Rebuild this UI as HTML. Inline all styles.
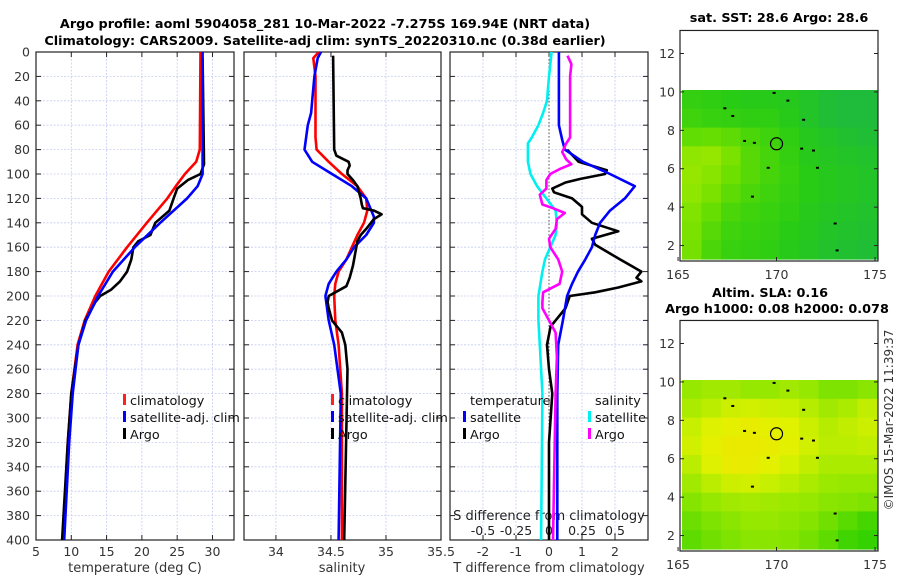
<!DOCTYPE html>
<html><head><meta charset="utf-8"><style>
html,body{margin:0;padding:0;background:#fff;width:900px;height:580px;overflow:hidden}
svg{display:block;font-family:"DejaVu Sans","Liberation Sans",sans-serif}
</style></head><body>
<svg id="fig" width="900" height="580" viewBox="0 0 900 580" xmlns="http://www.w3.org/2000/svg">
<g id="titles" font-weight="bold" font-size="12.8" text-anchor="middle" fill="#000">
<text x="325" y="28">Argo profile: aoml 5904058_281 10-Mar-2022 -7.275S 169.94E (NRT data)</text>
<text x="325" y="45">Climatology: CARS2009. Satellite-adj clim: synTS_20220310.nc (0.38d earlier)</text>
<text x="779" y="22">sat. SST: 28.6 Argo: 28.6</text>
<text x="770" y="297">Altim. SLA: 0.16</text>
<text x="777" y="313">Argo h1000: 0.08 h2000: 0.078</text>
</g>
<text x="893" y="420" font-size="12" fill="#333" text-anchor="middle" transform="rotate(-90 893 420)">©IMOS 15-Mar-2022 11:39:37</text>
</svg>
<script>
// ---------- data ----------
const depthTicks=[0,20,40,60,80,100,120,140,160,180,200,220,240,260,280,300,320,340,360,380,400];
const tempTicks=[5,10,15,20,25,30];
const salTicks=[34,34.5,35,35.5];
const tdiffTicks=[-2,-1,0,1,2];
const sdiffTicks=[-0.5,-0.25,0,0.25,0.5];
const sdiffTickLabels=["-0.5","-0.25","0","0.25","0.5"];
const climTempDepth=[0,80,90,100,110,120,140,160,180,200,220,240,280,320,400];
const climTemp=[28.3,28.2,27.7,26.1,24.8,23.6,20.7,17.9,15.3,13.4,11.9,10.9,10.0,9.5,8.8];
const satTempDepth=[0,100,110,120,140,160,180,200,220,240,280,320,400];
const satTemp=[28.6,28.6,27.9,26.4,22.6,19.0,15.9,13.8,12.1,11.0,10.2,9.7,9.0];
const argoTempDepth=[5,92,100,105,112,120,130,140,150,155,160,170,180,188,195,200,205,220,240,280,320,400];
const argoTemp=[28.6,28.8,28.3,26.5,25.0,24.5,23.9,21.9,21.2,19.5,18.8,18.5,17.9,16.9,15.6,14.1,13.4,12.0,11.0,10.0,9.5,8.7];
const climSalDepth=[0,5,20,70,80,90,100,110,120,130,140,150,160,170,180,190,200,220,240,280,400];
const climSal=[34.39,34.34,34.36,34.36,34.37,34.48,34.60,34.74,34.82,34.83,34.80,34.74,34.69,34.64,34.57,34.54,34.53,34.54,34.57,34.60,34.60];
const satSalDepth=[0,5,20,40,50,60,80,90,100,110,120,135,140,150,160,170,180,190,200,220,240,280,400];
const satSal=[34.41,34.38,34.35,34.33,34.32,34.29,34.26,34.33,34.51,34.69,34.82,34.89,34.89,34.82,34.71,34.64,34.55,34.48,34.45,34.48,34.53,34.59,34.57];
const argoSalDepth=[3,80,85,90,93,97,100,105,110,120,125,128,130,133,137,145,150,155,165,175,185,192,197,200,205,210,220,230,240,260,400];
const argoSal=[34.52,34.53,34.55,34.66,34.67,34.65,34.65,34.70,34.74,34.77,34.78,34.79,34.89,34.96,34.89,34.82,34.77,34.74,34.72,34.70,34.67,34.64,34.54,34.48,34.47,34.48,34.51,34.60,34.63,34.65,34.62];
const satTdiffDepth=[0,60,72,80,90,100,110,120,130,140,150,160,170,180,190,200,220,240,280,400];
const satTdiff=[0.3,0.3,0.4,0.48,1.03,1.85,2.6,2.3,1.85,1.55,1.4,1.3,1.1,0.88,0.7,0.55,0.42,0.28,0.25,0.25];
const argoTdiffDepth=[80,90,97,100,104,107,112,115,120,127,133,140,147,153,158,170,180,185,188,193,197,200,210,220,225,240,260,280,320,400];
const argoTdiff=[0.55,0.9,1.75,1.7,0.95,0.5,0.1,0.15,0.7,1.0,1.0,1.3,2.1,1.3,1.4,2.15,2.8,2.65,2.8,2.1,1.4,0.63,0.5,0.2,0.05,-0.06,0.0,0.1,0.0,0.0];
const satSdiffDepth=[0,20,40,50,60,70,75,90,100,110,120,130,140,150,160,170,180,200,220,240,280,400];
const satSdiff=[0.02,0.0,-0.015,-0.045,-0.08,-0.13,-0.16,-0.16,-0.14,-0.09,-0.02,0.05,0.06,0.05,0.01,-0.03,-0.05,-0.08,-0.08,-0.07,-0.05,-0.06];
const argoSdiffDepth=[3,10,20,70,75,82,88,92,96,100,105,112,117,125,128,132,137,145,153,160,170,180,190,197,205,210,220,230,250,280,400];
const argoSdiff=[0.14,0.17,0.16,0.16,0.13,0.1,0.13,0.17,0.08,0.01,-0.02,-0.02,-0.07,-0.05,0.03,0.12,0.06,0.05,0.0,0.01,0.07,0.1,0.08,-0.045,-0.05,-0.05,0.0,0.05,0.06,0.05,0.03];
const lonTicks=[165,170,175];
const latTicks=[2,4,6,8,10,12];
const sstField=[
[0.40,0.38,0.35,0.33,0.33,0.30,0.25,0.18,0.15,0.15],
[0.45,0.42,0.40,0.38,0.38,0.33,0.25,0.18,0.15,0.15],
[0.60,0.62,0.58,0.50,0.45,0.38,0.30,0.25,0.20,0.18],
[0.78,0.80,0.70,0.55,0.48,0.40,0.32,0.28,0.25,0.22],
[0.80,0.75,0.65,0.55,0.48,0.42,0.35,0.30,0.28,0.25],
[0.78,0.70,0.58,0.50,0.45,0.40,0.35,0.30,0.28,0.25],
[0.72,0.62,0.50,0.45,0.42,0.38,0.32,0.28,0.25,0.22],
[0.70,0.55,0.45,0.42,0.40,0.35,0.30,0.25,0.22,0.20],
[0.68,0.50,0.42,0.40,0.38,0.33,0.28,0.22,0.20,0.18]];
const slaField=[
[0.45,0.50,0.50,0.45,0.45,0.50,0.45,0.35,0.35,0.40],
[0.55,0.62,0.70,0.72,0.70,0.68,0.60,0.50,0.55,0.65],
[0.68,0.78,0.85,0.88,0.85,0.80,0.70,0.60,0.65,0.70],
[0.72,0.85,0.92,0.92,0.88,0.82,0.72,0.62,0.62,0.65],
[0.62,0.78,0.90,0.88,0.82,0.75,0.65,0.55,0.55,0.55],
[0.50,0.62,0.70,0.72,0.68,0.62,0.55,0.48,0.45,0.45],
[0.38,0.45,0.50,0.52,0.50,0.48,0.45,0.40,0.38,0.35],
[0.28,0.35,0.40,0.45,0.45,0.42,0.38,0.30,0.20,0.12],
[0.22,0.30,0.35,0.40,0.40,0.38,0.32,0.22,0.10,0.05]];

// ---------- drawing ----------
const NS="http://www.w3.org/2000/svg";
const fig=document.getElementById('fig');
function mk(tag,attrs,parent){const e=document.createElementNS(NS,tag);for(const k in attrs)e.setAttribute(k,attrs[k]);(parent||fig).appendChild(e);return e;}
const Y0=52,Y1=540;
const yD=d=>Y0+(d/400)*(Y1-Y0);
const panels=[
 {x0:36,x1:234,v0:5,v1:33.05,ticks:tempTicks,labels:tempTicks.map(String),name:'temperature-panel'},
 {x0:244,x1:441,v0:33.71,v1:35.5,ticks:salTicks,labels:["34","34.5","35","35.5"],name:'salinity-panel'},
 {x0:450,x1:648,v0:-3,v1:3,ticks:tdiffTicks,labels:tdiffTicks.map(String),name:'difference-panel'}];
panels.forEach(p=>{p.sx=v=>p.x0+(v-p.v0)/(p.v1-p.v0)*(p.x1-p.x0);});

function drawPanel(p){
 const g=mk('g',{});
 
 
 const grid=mk('g',{stroke:'#c6cdef','stroke-width':0.8,'stroke-dasharray':'2,1.5'},g);
 
 
 depthTicks.forEach(d=>{if(d>0&&d<400)mk('line',{x1:p.x0,x2:p.x1,y1:yD(d),y2:yD(d)},grid);});
 p.ticks.forEach(v=>{const x=p.sx(v);if(x>p.x0+1&&x<p.x1-1)mk('line',{x1:x,x2:x,y1:Y0,y2:Y1},grid);});
 const box=mk('rect',{x:p.x0,y:Y0,width:p.x1-p.x0,height:Y1-Y0,fill:'none',stroke:'#222','stroke-width':1.2},g);
 
 
 const tk=mk('g',{stroke:'#222','stroke-width':1},g);
 depthTicks.forEach(d=>{mk('line',{x1:p.x0,x2:p.x0+5,y1:yD(d),y2:yD(d)},tk);mk('line',{x1:p.x1,x2:p.x1-5,y1:yD(d),y2:yD(d)},tk);});
 p.ticks.forEach(v=>{const x=p.sx(v);mk('line',{x1:x,x2:x,y1:Y1,y2:Y1-5},tk);mk('line',{x1:x,x2:x,y1:Y0,y2:Y0+5},tk);});
 p.ticks.forEach((v,j)=>{const t=mk('text',{x:p.sx(v),y:Y1+16,'font-size':12.5,'text-anchor':'middle',fill:'#333'},g);t.textContent=p.labels[j];
  
  });
}
panels.forEach(drawPanel);
depthTicks.forEach(d=>{const t=mk('text',{x:30,y:yD(d)+4.5,'font-size':12.5,'text-anchor':'end',fill:'#333'});t.textContent=String(d);
 
 });
const zl=mk('line',{x1:panels[2].sx(0),x2:panels[2].sx(0),y1:Y0,y2:Y1,stroke:'#555','stroke-width':1,'stroke-dasharray':'1.5,2'});


[['temperature (deg C)',135,'x-axis-title-temperature'],['salinity',342,'x-axis-title-salinity'],['T difference from climatology',549,'x-axis-title-tdiff']].forEach(a=>{
 const t=mk('text',{x:a[1],y:572,'font-size':13,'text-anchor':'middle',fill:'#333'});t.textContent=a[0];
 
 });
const sx=v=>panels[2].sx(0)+v*132;
const sTitle=mk('text',{x:549,y:520,'font-size':13,'text-anchor':'middle',fill:'#222'});sTitle.textContent='S difference from climatology';


sdiffTicks.forEach((v,j)=>{const t=mk('text',{x:sx(v),y:535,'font-size':12.5,'text-anchor':'middle',fill:'#222'});t.textContent=sdiffTickLabels[j];
 
 });

function line(xs,ds,scale,color,name,w){
 const pts=xs.map((v,i)=>scale(v).toFixed(1)+','+yD(ds[i]).toFixed(1)).join(' ');
 const e=mk('polyline',{points:pts,fill:'none',stroke:color,'stroke-width':w||2.6,'stroke-linejoin':'round'});
 
 
}
line(climTemp,climTempDepth,panels[0].sx,'#ff0000','climatology-temp-line');
line(argoTemp,argoTempDepth,panels[0].sx,'#000','argo-temp-line');
line(satTemp,satTempDepth,panels[0].sx,'#0000ff','satellite-temp-line');
line(climSal,climSalDepth,panels[1].sx,'#ff0000','climatology-sal-line');
line(satSal,satSalDepth,panels[1].sx,'#0000ff','satellite-sal-line');
line(argoSal,argoSalDepth,panels[1].sx,'#000','argo-sal-line');
line(satSdiff,satSdiffDepth,sx,'#00f0f0','satellite-sdiff-line');
line(argoTdiff,argoTdiffDepth,panels[2].sx,'#000','argo-tdiff-line');
line(satTdiff,satTdiffDepth,panels[2].sx,'#0000ff','satellite-tdiff-line');
line(argoSdiff,argoSdiffDepth,sx,'#ff00ff','argo-sdiff-line');

function legEntry(x,y,color,label,name){
 const g=mk('g',{});
 
 
 if(color)mk('rect',{x:x-7,y:y-11,width:3,height:11,fill:color},g);
 const t=mk('text',{x:x,y:y,'font-size':12.8,fill:'#111'},g);t.textContent=label;
}
legEntry(130,405,'#ff2020','climatology','legend-entry-climatology');
legEntry(130,422,'#0000ff','satellite-adj. clim','legend-entry-satellite');
legEntry(130,439,'#000','Argo','legend-entry-argo');
legEntry(338,405,'#ff2020','climatology','legend-entry-climatology');
legEntry(338,422,'#0000ff','satellite-adj. clim','legend-entry-satellite');
legEntry(338,439,'#000','Argo','legend-entry-argo');
legEntry(470,405,null,'temperature','legend-header-temperature');
legEntry(470,422,'#0000ff','satellite','legend-entry-t-satellite');
legEntry(470,439,'#000','Argo','legend-entry-t-argo');
legEntry(595,405,null,'salinity','legend-header-salinity');
legEntry(595,422,'#00f0f0','satellite','legend-entry-s-satellite');
legEntry(595,439,'#ff00ff','Argo','legend-entry-s-argo');

function lerpCol(stops,v){v=Math.max(0,Math.min(1,v));for(let i=1;i<stops.length;i++){if(v<=stops[i][0]){const a=stops[i-1],b=stops[i];const t=(v-a[0])/(b[0]-a[0]);const c=[0,1,2].map(k=>Math.round(a[1][k]+(b[1][k]-a[1][k])*t));return 'rgb('+c.join(',')+')';}}return 'rgb('+stops[stops.length-1][1].join(',')+')';}
const sstStops=[[0,[24,176,88]],[0.35,[40,204,20]],[0.65,[110,224,0]],[1,[200,240,0]]];
const slaStops=[[0,[40,208,0]],[0.45,[150,232,0]],[0.8,[225,242,0]],[1,[240,228,0]]];
function drawMap(m){
 const g=mk('g',{});
 
 
 const lx=v=>m.x0+(v-165.2)/(175.1-165.2)*(m.x1-m.x0);
 const ly=v=>m.yb-(v-1.3)/(10.1-1.3)*(m.yb-m.yt);
 const top=ly(13.2);
 mk('rect',{x:m.x0-2,y:top,width:m.x1-m.x0+3,height:m.yb-top+2,fill:'#fff'},g);
 const rows=m.field.length,cols=m.field[0].length;
 const cw=(m.x1-m.x0)/cols,ch=(m.yb-m.yt)/rows;
 m.field.forEach((r,i)=>r.forEach((v,j)=>{
  const c=mk('rect',{x:(m.x0+j*cw).toFixed(1),y:(m.yt+i*ch).toFixed(1),width:(cw+0.6).toFixed(1),height:(ch+0.6).toFixed(1),fill:lerpCol(m.stops,v)},g);
  
  
 }));
 const fr=mk('rect',{x:m.x0-2,y:top,width:m.x1-m.x0+3,height:m.yb-top+2,fill:'none',stroke:'#222','stroke-width':1.2},g);
 
 
 const specks=[[167.3,9.2],[167.7,8.8],[168.3,7.5],[168.8,7.4],[169.5,6.1],[171.2,7.1],[171.8,7.0],[172.0,6.1],[172.9,3.2],[173.0,1.8],[170.5,9.6],[171.3,8.6],[169.8,10.0],[168.7,4.6]];
 specks.forEach(s=>mk('rect',{x:lx(s[0]),y:ly(s[1]),width:3,height:2,fill:'#000'},g));
 const ci=mk('circle',{cx:lx(170),cy:ly(7.3),r:6,fill:'none',stroke:'#000','stroke-width':1.2},g);
 
 
 lonTicks.forEach(v=>{const x=lx(v);mk('line',{x1:x,x2:x,y1:m.yb+2,y2:m.yb-2,stroke:'#222'},g);
  const t=mk('text',{x:x,y:m.yb+20,'font-size':12.5,'text-anchor':'middle',fill:'#333'},g);t.textContent=String(v);
  
  });
 latTicks.forEach(v=>{const y=ly(v);mk('line',{x1:m.x0-2,x2:m.x0+2,y1:y,y2:y,stroke:'#222'},g);mk('line',{x1:m.x1+1,x2:m.x1-3,y1:y,y2:y,stroke:'#222'},g);
  const t=mk('text',{x:m.x0-7,y:y+4.5,'font-size':12.5,'text-anchor':'end',fill:'#333'},g);t.textContent=String(v);
  
  });
}
drawMap({name:'sst-map',x0:682,x1:877,yt:90,yb:259,field:sstField,stops:sstStops});
drawMap({name:'sla-map',x0:682,x1:877,yt:380,yb:549,field:slaField,stops:slaStops});
</script>
</body></html>
